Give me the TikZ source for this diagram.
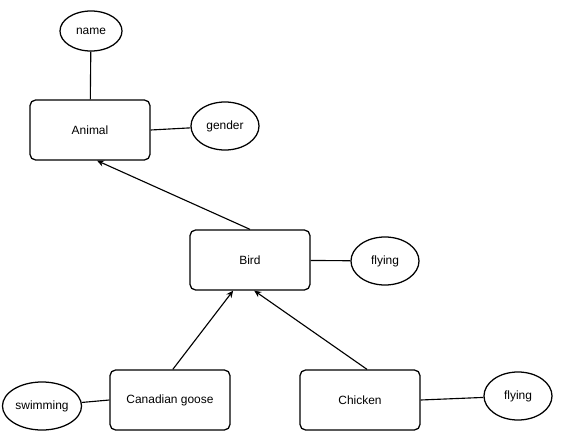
\documentclass[tikz,border=0pt]{standalone}
\usepackage{fontspec}
\setmainfont{Liberation Sans}
\usetikzlibrary{shapes.geometric,arrows.meta}
\tikzset{
  entity/.style={draw,line width=0.9pt,rounded corners=4pt,
    minimum width=3cm,minimum height=1.5cm,font=\fontsize{8.5}{10}\selectfont},
  attr/.style={draw,ellipse,line width=0.9pt,inner sep=1pt,
    minimum width=1.7cm,minimum height=1.2cm,font=\fontsize{8.5}{10}\selectfont},
  isa/.style={-{Stealth[length=5pt,width=4.5pt]}}
}

\begin{document}
\begin{tikzpicture}[x=0.025cm,y=-0.025cm,line width=0.8pt]
     \useasboundingbox (0,0) rectangle (561,441);
     % entities
     \node[entity] (animal) at (90,130) {Animal};
     \node[entity] (bird) at (250,260) {Bird};
     \node[entity] (goose) at (170,400) {Canadian goose};
     \node[entity] (chicken) at (360,400) {Chicken};
     % attributes
     \node[attr,minimum width=1.55cm,minimum height=1cm] (name) at (91,31) {name};
     \node[attr] (gender) at (225,126) {gender};
     \node[attr] (flyA) at (385,261) {flying};
     \node[attr] (swim) at (42,406) {swimming};
     \node[attr] (flyB) at (518,396) {flying};
     % attribute links
     \draw (name) -- (animal);
     \draw (animal.east) -- (gender);
     \draw (bird) -- (flyA);
     \draw (goose.west) -- (swim);
     \draw (chicken.east) -- (flyB);
     % inheritance
     \draw[isa] (bird.north) -- ([xshift=5]animal.south);
     \draw[isa] ([xshift=2]goose.north) -- ([xshift=-12]bird.south);
     \draw[isa] ([xshift=5]chicken.north) -- ([xshift=3]bird.south);
    \end{tikzpicture}
\end{document}
